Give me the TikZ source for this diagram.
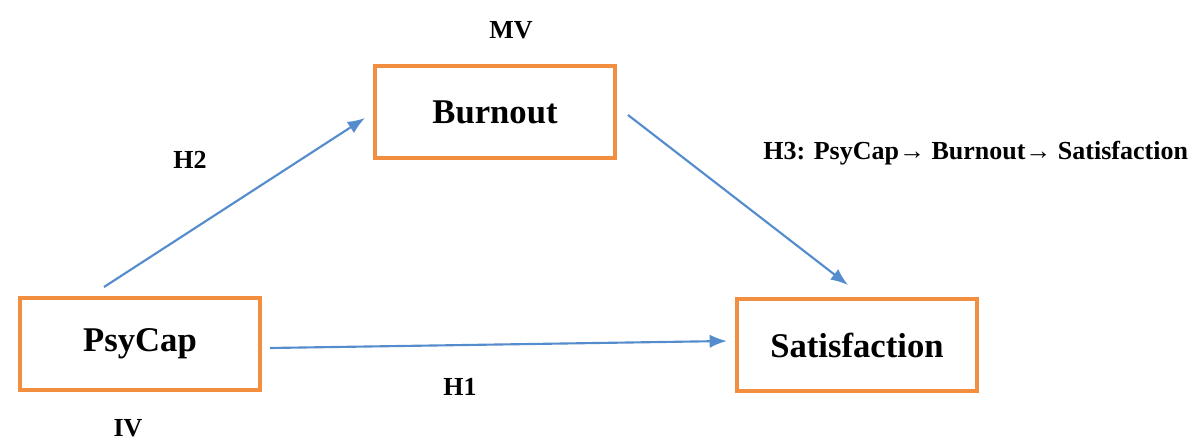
\documentclass[tikz,border=0pt]{standalone}
\usepackage{fontspec}
\setmainfont{Liberation Serif}
\usetikzlibrary{arrows.meta}

\definecolor{boxorange}{RGB}{242,142,64}
\definecolor{pathblue}{RGB}{84,140,205}

\tikzset{
  varbox/.style={draw=boxorange, line width=3pt, fill=white, minimum width=180pt,
    minimum height=69pt, font=\fontsize{26}{30}\selectfont\bfseries},
  hyplabel/.style={font=\fontsize{19.5}{23}\selectfont\bfseries, inner sep=0pt},
  patharrow/.style={draw=pathblue, line width=1.6pt, -{Latex[length=13pt,width=10pt]}}
}

\begin{document}
\begin{tikzpicture}[x=0.75pt,y=0.75pt,yscale=-1]
\useasboundingbox (0,0) rectangle (1196,442);

% Variables
\node[varbox] (burnout) at (495,112) {Burnout};
\node[varbox] (psycap) at (140,344) {PsyCap};
\node[varbox] (satisfaction) at (857,345) {Satisfaction};

% Paths
\draw[patharrow] ([shift={(-36,-9)}]psycap.north) -- ([shift={(-8,6)}]burnout.west);
\draw[patharrow] ([shift={(11,3)}]burnout.east) -- ([shift={(-9,-12)}]satisfaction.north);
\draw[patharrow] ([shift={(8,4)}]psycap.east) -- ([shift={(-8,-4)}]satisfaction.west);

% Text Node
\node[hyplabel] (mv) at (511,30) {MV};
% Text Node
\node[hyplabel] (h2) at (190,160) {H2};
% Text Node
\node[hyplabel, anchor=west] (h3) at (763,153) {H3: PsyCap\textrightarrow\ Burnout\textrightarrow\ Satisfaction};
% Text Node
\node[hyplabel] (h1) at (460,387) {H1};
% Text Node
\node[hyplabel] (iv) at (128,428) {IV};

\end{tikzpicture}
\end{document}
